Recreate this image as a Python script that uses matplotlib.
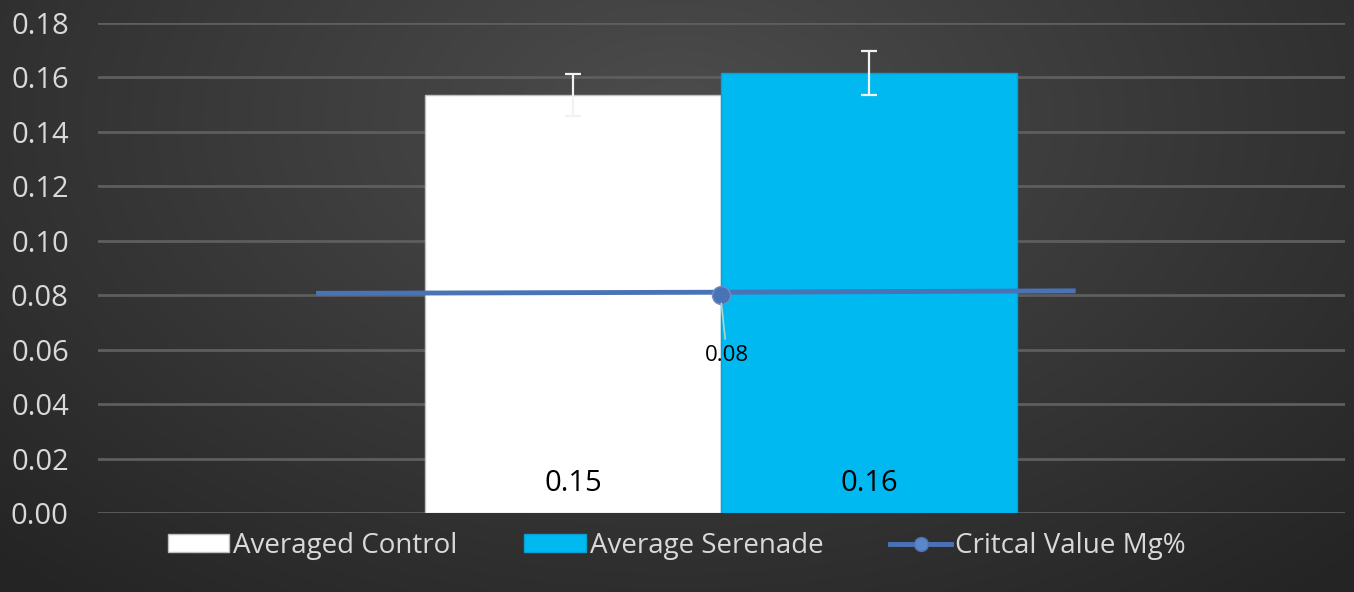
import matplotlib
matplotlib.use("Agg")
import matplotlib.pyplot as plt
from matplotlib.lines import Line2D
import numpy as np

# data
categories = ["Averaged Control", "Average Serenade"]
bar_values = [0.1536, 0.1616]
bar_errors = [0.0077, 0.0081]
bar_colors = ["#ffffff", "#00b9f1"]
bar_offsets = [-0.5, 0.5]

crit_label = "Critcal Value Mg%"
crit_x = [-1.36, 0.0, 1.19]
crit_y = [0.0807, 0.0811, 0.0816]
crit_point = 0.080

yticks = [0.00, 0.02, 0.04, 0.06, 0.08, 0.10, 0.12, 0.14, 0.16, 0.18]

plt.rcParams["font.family"] = ["Open Sans", "DejaVu Sans"]
text_color = "#d9d9d9"

fig = plt.figure(figsize=(13.54, 5.92), dpi=100)

# dark gradient background, lighter toward the upper middle
bg = fig.add_axes([0, 0, 1, 1], zorder=-10)
gx = np.linspace(-1, 1, 400)
gy = np.linspace(-1, 1, 200)
X, Y = np.meshgrid(gx, gy)
R = np.sqrt((X / 1.1) ** 2 + ((Y + 0.6) / 1.6) ** 2)
shade = 0.30 - 0.12 * np.clip(R, 0, 1.3)
bg.imshow(np.dstack([shade, shade, shade]), aspect="auto", extent=[0, 1, 0, 1],
          origin="upper")
bg.set_axis_off()

ax = fig.add_axes([98 / 1354, 1 - 513 / 592, (1345 - 98) / 1354, (513 - 23) / 592])
ax.set_facecolor("none")

bars = []
for off, val, err, col, name in zip(bar_offsets, bar_values, bar_errors, bar_colors, categories):
    b = ax.bar(off, val, width=1.0, color=col,
               edgecolor="#bfbfbf" if col == "#ffffff" else "#0a9fd3",
               linewidth=1.0, label=name, zorder=3)
    ax.errorbar(off, val, yerr=err, fmt="none", ecolor="#f2f2f2", elinewidth=1.6,
                capsize=6, capthick=1.6, zorder=4)
    ax.text(off, 0.011, f"{val:.2f}", ha="center", va="center", fontsize=21,
            color="black", zorder=5)
    bars.append(b)

ax.plot(crit_x, crit_y, color="#4a73b5", linewidth=3.5, zorder=6)
ax.plot([crit_x[1]], [crit_point], marker="o", markersize=13, color="#4a73b5",
        markeredgecolor="#6f8fc9", zorder=7)
ax.annotate(f"{crit_point:.2f}", xy=(crit_x[1], crit_point - 0.002),
            xytext=(0.02, 0.058), ha="center", va="center", fontsize=16,
            color="black", zorder=8,
            arrowprops=dict(arrowstyle="-", color="#a8d8d0", linewidth=1.2))

ax.set_xlim(-2.105, 2.108)
ax.set_ylim(0, 0.18)
ax.set_yticks(yticks)
ax.set_yticklabels([f"{t:.2f}" for t in yticks])
ax.yaxis.grid(True, color="#5e5e5e", linewidth=2, zorder=0)
ax.set_axisbelow(True)
ax.set_xticks([])
ax.tick_params(axis="y", length=0, labelsize=21, colors=text_color, pad=21)
for s in ax.spines.values():
    s.set_visible(False)

crit_handle = Line2D([], [], color="#4a73b5", linewidth=3.5, marker="o",
                     markersize=10, markerfacecolor="#5b86c8")
fig.legend([bars[0], bars[1], crit_handle], categories + [crit_label],
           loc="center", bbox_to_anchor=(0.5, 1 - 546 / 592), ncol=3,
           frameon=False, fontsize=20, labelcolor=text_color,
           handlelength=2.2, handleheight=0.6, handletextpad=0.15,
           columnspacing=2.4)

fig.savefig("out.png", dpi=100)
